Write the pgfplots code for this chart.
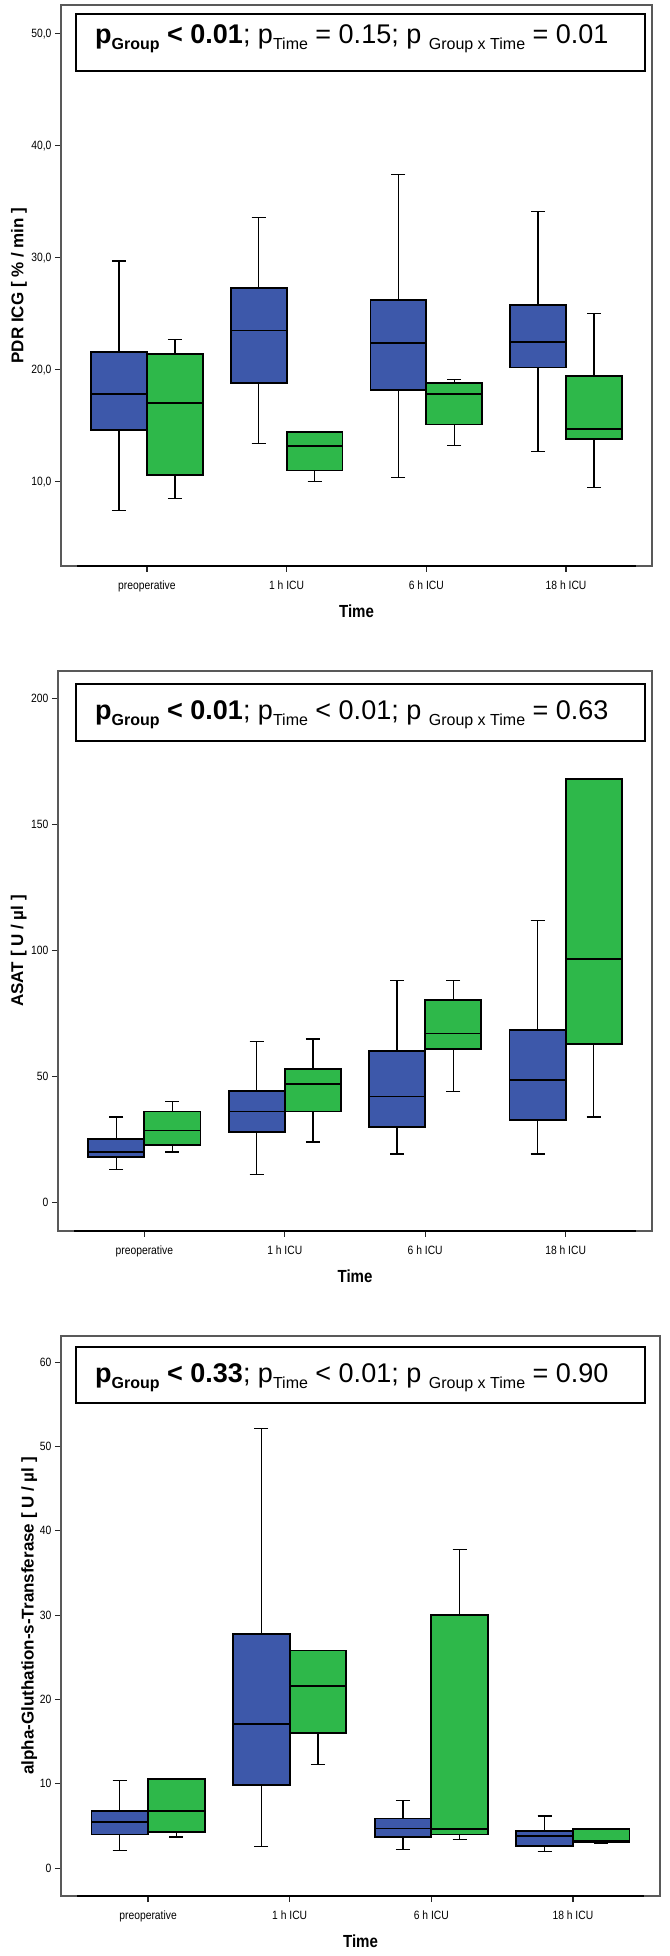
\documentclass[border=0pt]{standalone}
\usepackage{fontspec}
\setmainfont{Liberation Sans}
\newfontfamily\narrowsans[FakeStretch=0.86]{Liberation Sans}
\usepackage{pgfplots}
\pgfplotsset{compat=1.18}
\usepgfplotslibrary{statistics}

\definecolor{grpblue}{RGB}{61,88,170}
\definecolor{grpgreen}{RGB}{46,184,74}

\newcommand{\ticklabelfont}{\narrowsans\fontsize{12}{13}\selectfont}
\newcommand{\labelfont}{\bfseries\fontsize{17}{19}\selectfont}
\newcommand{\sub}[1]{\raisebox{-6.5pt}{\fontsize{16}{17}\selectfont #1}}

\pgfplotsset{
  panel/.style={
    scale only axis, clip=false,
    xmin=0.385, xmax=4.615,
    axis line style={draw=black!65, line width=1.1pt},
    xtick={1,2,3,4},
    xticklabels={preoperative, 1 h ICU, 6 h ICU, 18 h ICU},
    xtick pos=bottom, ytick pos=left,
    tick align=outside,
    major tick length=6pt,
    tick style={line width=1.2pt, black!85},
    ticklabel style={font=\ticklabelfont},
    xticklabel style={yshift=-5pt},
    /pgf/number format/assume math mode=true,
    xlabel={Time},
    xlabel style={font=\bfseries\narrowsans\fontsize{17.5}{19}\selectfont, at={(axis description cs:0.5,-0.08)}, anchor=center},
    ylabel style={font=\labelfont, anchor=center},
    boxplot/draw direction=y,
    boxplot/box extend=0.4,
    boxplot/whisker extend=0.1,
    boxplot/every box/.style={line width=1.8pt},
    boxplot/every median/.style={line width=1.8pt},
    boxplot/every whisker/.style={line width=1.3pt},
  },
  bl/.style={draw=black, fill=grpblue},
  gr/.style={draw=black, fill=grpgreen},
}

\begin{document}
\begin{tikzpicture}
\useasboundingbox (0,0) rectangle (669pt,1956pt);

% ---- PDR ICG ----
\begin{axis}[panel, at={(61pt,1390pt)}, anchor=south west,
    width=591pt, height=561pt,
    ymin=2.47, ymax=52.56, ytick={10,20,30,40,50},
    yticklabel style={/pgf/number format/.cd, fixed, fixed zerofill, precision=1, use comma},
    ylabel={PDR ICG [ \% / min ]},
    ylabel style={at={(axis description cs:-0.071,0.5)}}]
\addplot[bl, boxplot prepared={draw position=0.8, lower whisker=7.4, lower quartile=14.6, median=17.8, upper quartile=21.6, upper whisker=29.7}] coordinates {};
\addplot[gr, boxplot prepared={draw position=1.2, lower whisker=8.5, lower quartile=10.6, median=17.0, upper quartile=21.4, upper whisker=22.7}] coordinates {};
\addplot[bl, boxplot prepared={draw position=1.8, lower whisker=13.4, lower quartile=18.8, median=23.5, upper quartile=27.3, upper whisker=33.6}] coordinates {};
\addplot[gr, boxplot prepared={draw position=2.2, lower whisker=10.0, lower quartile=11.0, median=13.2, upper quartile=14.4, upper whisker=14.4}] coordinates {};
\addplot[bl, boxplot prepared={draw position=2.8, lower whisker=10.4, lower quartile=18.2, median=22.4, upper quartile=26.2, upper whisker=37.4}] coordinates {};
\addplot[gr, boxplot prepared={draw position=3.2, lower whisker=13.2, lower quartile=15.1, median=17.8, upper quartile=18.8, upper whisker=19.1}] coordinates {};
\addplot[bl, boxplot prepared={draw position=3.8, lower whisker=12.7, lower quartile=20.2, median=22.5, upper quartile=25.8, upper whisker=34.1}] coordinates {};
\addplot[gr, boxplot prepared={draw position=4.2, lower whisker=9.5, lower quartile=13.8, median=14.7, upper quartile=19.4, upper whisker=25.0}] coordinates {};
\draw[line width=1.6pt] (rel axis cs:0.0272,0) -- (rel axis cs:0.9728,0);
\end{axis}
\draw[line width=2pt] (76pt,1885pt) rectangle (645pt,1942pt);
\node[anchor=base west, inner sep=0pt, font=\fontsize{27}{30}\selectfont] at (95pt,1912.5pt)
  {\textbf{p\sub{Group} < 0.01}; p\sub{Time} = 0.15; p \sub{Group x Time} = 0.01};

% ---- ASAT ----
\begin{axis}[panel, at={(58pt,725pt)}, anchor=south west,
    width=594pt, height=560pt,
    ymin=-11.2, ymax=211, ytick={0,50,100,150,200},
    ylabel={ASAT [ U / µl ]},
    ylabel style={at={(axis description cs:-0.066,0.5)}}]
\addplot[bl, boxplot prepared={draw position=0.8, lower whisker=13.2, lower quartile=18.2, median=20.2, upper quartile=25.2, upper whisker=34.0}] coordinates {};
\addplot[gr, boxplot prepared={draw position=1.2, lower whisker=20.2, lower quartile=23.0, median=28.7, upper quartile=36.2, upper whisker=40.1}] coordinates {};
\addplot[bl, boxplot prepared={draw position=1.8, lower whisker=11.1, lower quartile=28.2, median=36.2, upper quartile=44.2, upper whisker=64.0}] coordinates {};
\addplot[gr, boxplot prepared={draw position=2.2, lower whisker=24.1, lower quartile=36.2, median=47.0, upper quartile=53.1, upper whisker=65.0}] coordinates {};
\addplot[bl, boxplot prepared={draw position=2.8, lower whisker=19.3, lower quartile=30.1, median=42.2, upper quartile=60.2, upper whisker=88.1}] coordinates {};
\addplot[gr, boxplot prepared={draw position=3.2, lower whisker=44.2, lower quartile=61.0, median=67.2, upper quartile=80.3, upper whisker=88.1}] coordinates {};
\addplot[bl, boxplot prepared={draw position=3.8, lower whisker=19.3, lower quartile=32.8, median=48.7, upper quartile=68.7, upper whisker=111.9}] coordinates {};
\addplot[gr, boxplot prepared={draw position=4.2, lower whisker=34.0, lower quartile=63.0, median=96.6, upper quartile=168.0, upper whisker=168.0}] coordinates {};
\draw[line width=1.6pt] (rel axis cs:0.0272,0) -- (rel axis cs:0.9728,0);
\end{axis}
\draw[line width=2pt] (76pt,1215pt) rectangle (645pt,1272pt);
\node[anchor=base west, inner sep=0pt, font=\fontsize{27}{30}\selectfont] at (95pt,1236.5pt)
  {\textbf{p\sub{Group} < 0.01}; p\sub{Time} < 0.01; p \sub{Group x Time} = 0.63};

% ---- alpha-GST ----
\begin{axis}[panel, at={(61pt,60pt)}, anchor=south west,
    width=599pt, height=560pt,
    ymin=-3.3, ymax=63.1, ytick={0,10,20,30,40,50,60},
    ylabel={alpha-Gluthation-s-Transferase [ U / µl ]},
    ylabel style={at={(axis description cs:-0.053,0.5)}}]
\addplot[bl, boxplot prepared={draw position=0.8, lower whisker=2.1, lower quartile=4.0, median=5.5, upper quartile=6.8, upper whisker=10.4}] coordinates {};
\addplot[gr, boxplot prepared={draw position=1.2, lower whisker=3.7, lower quartile=4.3, median=6.8, upper quartile=10.6, upper whisker=10.6}] coordinates {};
\addplot[bl, boxplot prepared={draw position=1.8, lower whisker=2.6, lower quartile=9.9, median=17.1, upper quartile=27.8, upper whisker=52.1}] coordinates {};
\addplot[gr, boxplot prepared={draw position=2.2, lower whisker=12.3, lower quartile=16.0, median=21.6, upper quartile=25.8, upper whisker=25.8}] coordinates {};
\addplot[bl, boxplot prepared={draw position=2.8, lower whisker=2.2, lower quartile=3.7, median=4.7, upper quartile=5.9, upper whisker=8.0}] coordinates {};
\addplot[gr, boxplot prepared={draw position=3.2, lower whisker=3.4, lower quartile=4.0, median=4.6, upper quartile=30.0, upper whisker=37.8}] coordinates {};
\addplot[bl, boxplot prepared={draw position=3.8, lower whisker=2.0, lower quartile=2.6, median=3.8, upper quartile=4.4, upper whisker=6.2}] coordinates {};
\addplot[gr, boxplot prepared={draw position=4.2, lower whisker=3.0, lower quartile=3.05, median=3.25, upper quartile=4.6, upper whisker=4.6}] coordinates {};
\draw[line width=1.6pt] (rel axis cs:0.0272,0) -- (rel axis cs:0.9728,0);
\end{axis}
\draw[line width=2pt] (76pt,552.5pt) rectangle (645pt,608.5pt);
\node[anchor=base west, inner sep=0pt, font=\fontsize{27}{30}\selectfont] at (95pt,573.5pt)
  {\textbf{p\sub{Group} < 0.33}; p\sub{Time} < 0.01; p \sub{Group x Time} = 0.90};
\end{tikzpicture}
\end{document}
